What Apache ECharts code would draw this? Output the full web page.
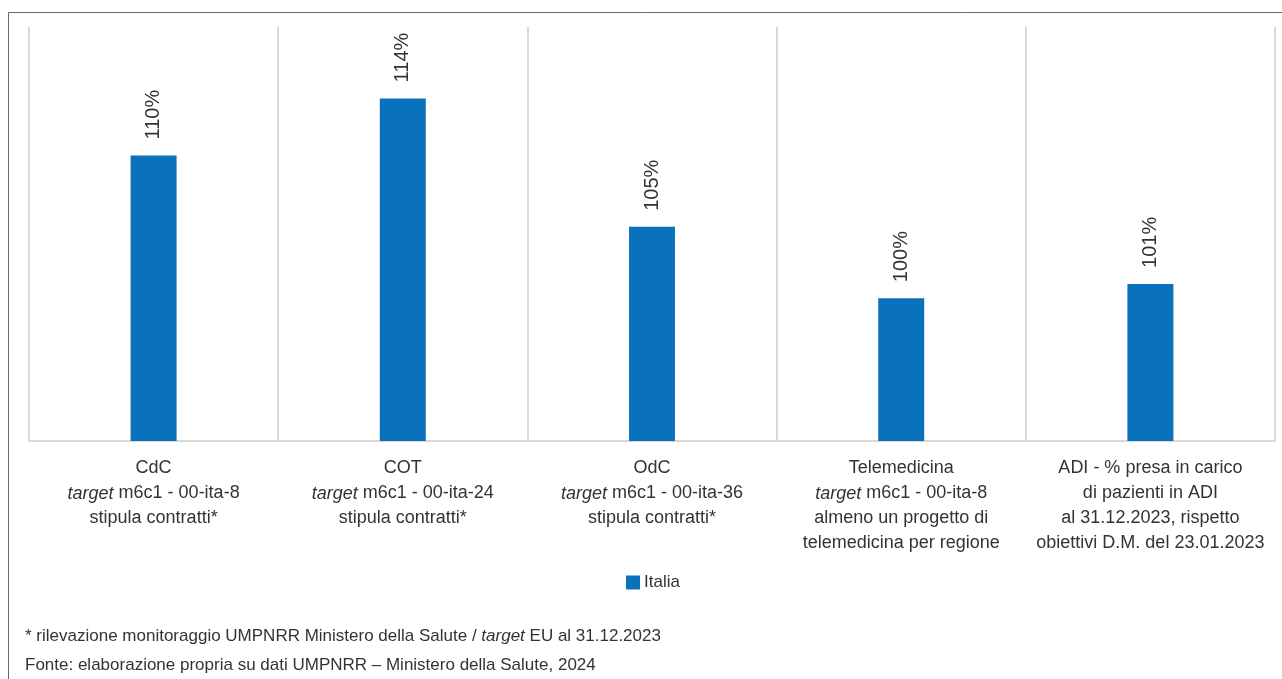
<!DOCTYPE html>
<html>
<head>
<meta charset="utf-8">
<script src="https://cdn.jsdelivr.net/npm/echarts@6/dist/echarts.min.js"></script>
<style>
  html, body { margin: 0; padding: 0; background: #fff; }
  #main { width: 1282px; height: 679px; }
</style>
</head>
<body>
<div id="main"></div>
<script>
// dati
var categories = [
    'CdC\ntarget m6c1 - 00-ita-8\nstipula contratti*',
    'COT\ntarget m6c1 - 00-ita-24\nstipula contratti*',
    'OdC\ntarget m6c1 - 00-ita-36\nstipula contratti*',
    'Telemedicina\ntarget m6c1 - 00-ita-8\nalmeno un progetto di\ntelemedicina per regione',
    'ADI - % presa in carico\ndi pazienti in ADI\nal 31.12.2023, rispetto\nobiettivi D.M. del 23.01.2023'
];
var italia = [110, 114, 105, 100, 101];
var seriesName = 'Italia';
var note1 = '* rilevazione monitoraggio UMPNRR Ministero della Salute / {i|target} EU al 31.12.2023';
var note2 = 'Fonte: elaborazione propria su dati UMPNRR \u2013 Ministero della Salute, 2024';

var FONT = '"Liberation Sans Narrow", "Liberation Sans", Arial, sans-serif';
var TXT = '#333333';
var GRID_C = '#d9d9d9';

var myChart = echarts.init(document.getElementById('main'));
myChart.setOption({
    backgroundColor: '#fff',
    textStyle: { fontFamily: FONT, color: TXT },
    grid: { left: 29, right: 7, top: 27, bottom: 238 },
    legend: {
        data: [seriesName],
        left: 621,
        top: 569,
        itemWidth: 14,
        itemHeight: 14,
        icon: 'rect',
        itemGap: 6,
        textStyle: { fontFamily: FONT, fontSize: 17, color: TXT, padding: [0, 0, 0, -1] }
    },
    title: [
        {
            text: note1,
            left: 20, top: 623,
            textStyle: {
                fontFamily: FONT, fontSize: 17, fontWeight: 'normal', color: TXT,
                rich: { i: { fontFamily: FONT, fontSize: 17, fontStyle: 'italic', color: TXT } }
            }
        },
        {
            text: note2,
            left: 20, top: 652,
            textStyle: { fontFamily: FONT, fontSize: 17, fontWeight: 'normal', color: TXT }
        }
    ],
    graphic: [
        { type: 'line', shape: { x1: 8.5, y1: 12.5, x2: 1282, y2: 12.5 }, style: { stroke: '#666', lineWidth: 1 } },
        { type: 'line', shape: { x1: 8.5, y1: 12.5, x2: 8.5, y2: 679 }, style: { stroke: '#666', lineWidth: 1 } }
    ],
    xAxis: {
        type: 'category',
        data: categories,
        axisLine: { lineStyle: { color: GRID_C, width: 2 } },
        axisTick: { show: false },
        splitLine: { show: true, lineStyle: { color: GRID_C, width: 2 } },
        axisLabel: {
            interval: 0,
            margin: 15,
            fontFamily: FONT,
            fontSize: 18,
            lineHeight: 25,
            color: TXT,
            align: 'center',
            formatter: function (v) {
                return v.split('\n').map(function (l) {
                    return l.replace('target', '{i|target}');
                }).join('\n');
            },
            rich: {
                i: { fontFamily: FONT, fontSize: 18, lineHeight: 25, fontStyle: 'italic', color: TXT }
            }
        }
    },
    yAxis: {
        type: 'value',
        min: 90,
        max: 119,
        show: false,
        splitLine: { show: false }
    },
    series: [{
        name: seriesName,
        type: 'bar',
        data: italia,
        barWidth: 46,
        itemStyle: { color: '#0a71bc' },
        label: {
            show: true,
            position: 'top',
            rotate: 90,
            align: 'left',
            verticalAlign: 'middle',
            distance: 16,
            fontFamily: FONT,
            fontSize: 20,
            color: TXT,
            formatter: '{c}%'
        }
    }]
});
</script>
</body>
</html>
